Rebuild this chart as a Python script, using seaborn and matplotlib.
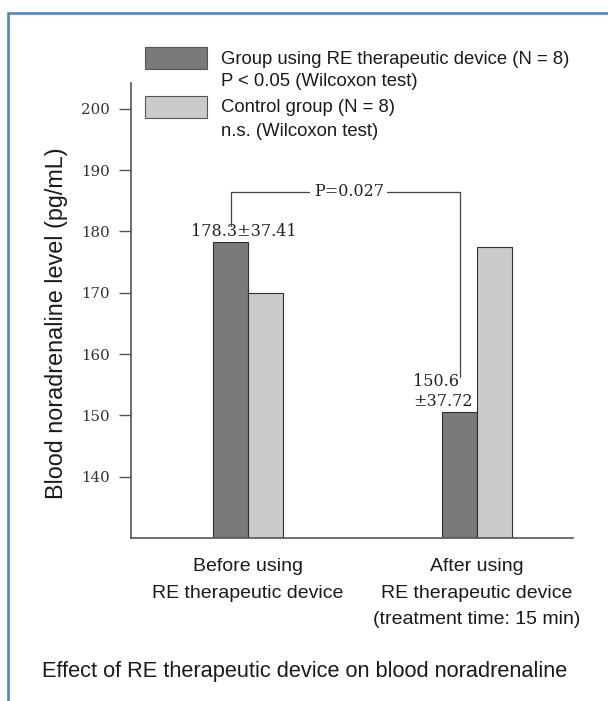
import matplotlib
matplotlib.use("Agg")
import matplotlib.pyplot as plt
from matplotlib import font_manager
from matplotlib.patches import Rectangle
from matplotlib.lines import Line2D
import matplotlib.transforms as mtransforms
import numpy as np
import pandas as pd
import seaborn as sns

# ---- data -------------------------------------------------------------
phases = ["Before using\nRE therapeutic device",
          "After using\nRE therapeutic device\n(treatment time: 15 min)"]
groups = ["RE device", "Control"]
device_values = [178.3, 150.6]
control_values = [169.9, 177.5]
device_sd = [37.41, 37.72]
p_value = 0.027
y_ticks = [140, 150, 160, 170, 180, 190, 200]

legend_lines = [
    ("Group using RE therapeutic device (N = 8)", "P < 0.05 (Wilcoxon test)"),
    ("Control group (N = 8)", "n.s. (Wilcoxon test)"),
]
y_label = "Blood noradrenaline level (pg/mL)"
title = "Effect of RE therapeutic device on blood noradrenaline"

# ---- style ------------------------------------------------------------
sns.set_style("white")
plt.rcParams["font.family"] = ["Liberation Sans", "DejaVu Sans"]
installed = {f.name for f in font_manager.fontManager.ttflist}
if "Liberation Sans Narrow" in installed:
    cat_font, cat_size = "Liberation Sans Narrow", 16.5
else:
    cat_font, cat_size = "Liberation Sans", 14
serif = ["DejaVu Serif"]

dark, light = "#7a7a7a", "#cbcbcb"

W, H = 608, 701
fig = plt.figure(figsize=(W / 100, H / 100), dpi=100)
fig.patch.set_facecolor("white")

def fx(px):
    return px / W

def fy(py):
    return 1 - py / H

ax_top, ax_bottom = 83, 538
ax = fig.add_axes([fx(131), fy(ax_bottom), fx(573) - fx(131), fy(ax_top) - fy(ax_bottom)])

df = pd.DataFrame({
    "phase": phases * 2,
    "group": [groups[0]] * 2 + [groups[1]] * 2,
    "value": device_values + control_values,
})

sns.barplot(data=df, x="phase", y="value", hue="group",
            order=phases, hue_order=groups,
            palette=[dark, light], width=0.306, gap=0,
            edgecolor="#2e2e2e", linewidth=0.8,
            errorbar=None, legend=False, ax=ax, zorder=2)

ax.set_ylim(130, 204.2)
ax.set_xlim(-0.511, 1.419)
ax.set_yticks(y_ticks)
ax.set_yticklabels([str(t) for t in y_ticks], fontfamily=serif, fontsize=10.8,
                   color="#333333")
ax.tick_params(axis="y", direction="out", length=8.6, width=1.0,
               color="#555555", pad=6.5, left=True)

# category labels: one text per line under each group, on fixed baselines
ax.set_xticks(range(len(phases)))
ax.set_xticklabels([])
ax.tick_params(axis="x", length=0)
below = mtransforms.blended_transform_factory(ax.transData, ax.transAxes)
first_baseline, line_step = 571, 26.5
for i, name in enumerate(phases):
    for j, line in enumerate(name.split("\n")):
        base = first_baseline + j * line_step
        ax.text(i, -(base - ax_bottom) / (ax_bottom - ax_top), line,
                transform=below, ha="center", va="baseline",
                fontfamily=cat_font, fontsize=cat_size, color="#1a1a1a")
ax.set_xlabel("")
ax.set_ylabel("")
for side in ("top", "right"):
    ax.spines[side].set_visible(False)
for side in ("left", "bottom"):
    ax.spines[side].set_color("#555555")
    ax.spines[side].set_linewidth(1.2)

# value labels on the device bars
bar_half = 0.306 / 4
ax.annotate(f"{device_values[0]}\u00b1{device_sd[0]}",
            xy=(-0.018, device_values[0]), xytext=(0, 1.5),
            textcoords="offset points", ha="center", va="bottom",
            fontfamily=serif, fontsize=11.5, color="#222222")
ax.annotate(f"{device_values[1]}\n\u00b1{device_sd[1]}",
            xy=(0.72, device_values[1]), xytext=(0, 1.5),
            textcoords="offset points", ha="left", va="bottom",
            multialignment="left", linespacing=1.2,
            fontfamily=serif, fontsize=11.5, color="#222222")

# significance bracket between the device bars
x_left, x_right = 0 - bar_half, 1 - bar_half
y_top, y_left_end, y_right_end = 186.45, 180.8, 156.3
ax.plot([x_left, x_left, x_right, x_right],
        [y_left_end, y_top, y_top, y_right_end],
        color="#444444", lw=0.9, zorder=3, clip_on=False)
ax.text(0.44, y_top, f"P={p_value}", ha="center", va="center",
        fontfamily=serif, fontsize=11.5, color="#222222", zorder=4,
        bbox=dict(facecolor="white", edgecolor="none", pad=2.5))

# legend
patch_rows = [(47, 69), (96, 118)]
text_rows = [(59, 82), (108, 131)]
for color, (top, bottom), (l1, l2), (y1, y2) in zip(
        [dark, light], patch_rows, legend_lines, text_rows):
    fig.add_artist(Rectangle((fx(145), fy(bottom)), fx(207) - fx(145),
                             fy(top) - fy(bottom), transform=fig.transFigure,
                             facecolor=color, edgecolor="#555555", lw=0.8))
    fig.text(fx(221), fy(y1), l1, ha="left", va="center", fontsize=13.3,
             color="#1a1a1a")
    fig.text(fx(221), fy(y2), l2, ha="left", va="center", fontsize=13.3,
             color="#1a1a1a")

fig.text(fx(57), fy(323), y_label, rotation=90, ha="center", va="center",
         fontsize=16.8, color="#1a1a1a")
fig.text(fx(305), fy(672), title, ha="center", va="center",
         fontsize=15.7, color="#1a1a1a")

# frame around the panel
frame = "#4f86c6"
fig.add_artist(Line2D([fx(8), fx(8)], [fy(13), 0], transform=fig.transFigure,
                      color=frame, lw=1.9))
fig.add_artist(Line2D([fx(8), 1], [fy(13), fy(13)], transform=fig.transFigure,
                      color=frame, lw=1.9))

fig.savefig("out.png", dpi=100)
